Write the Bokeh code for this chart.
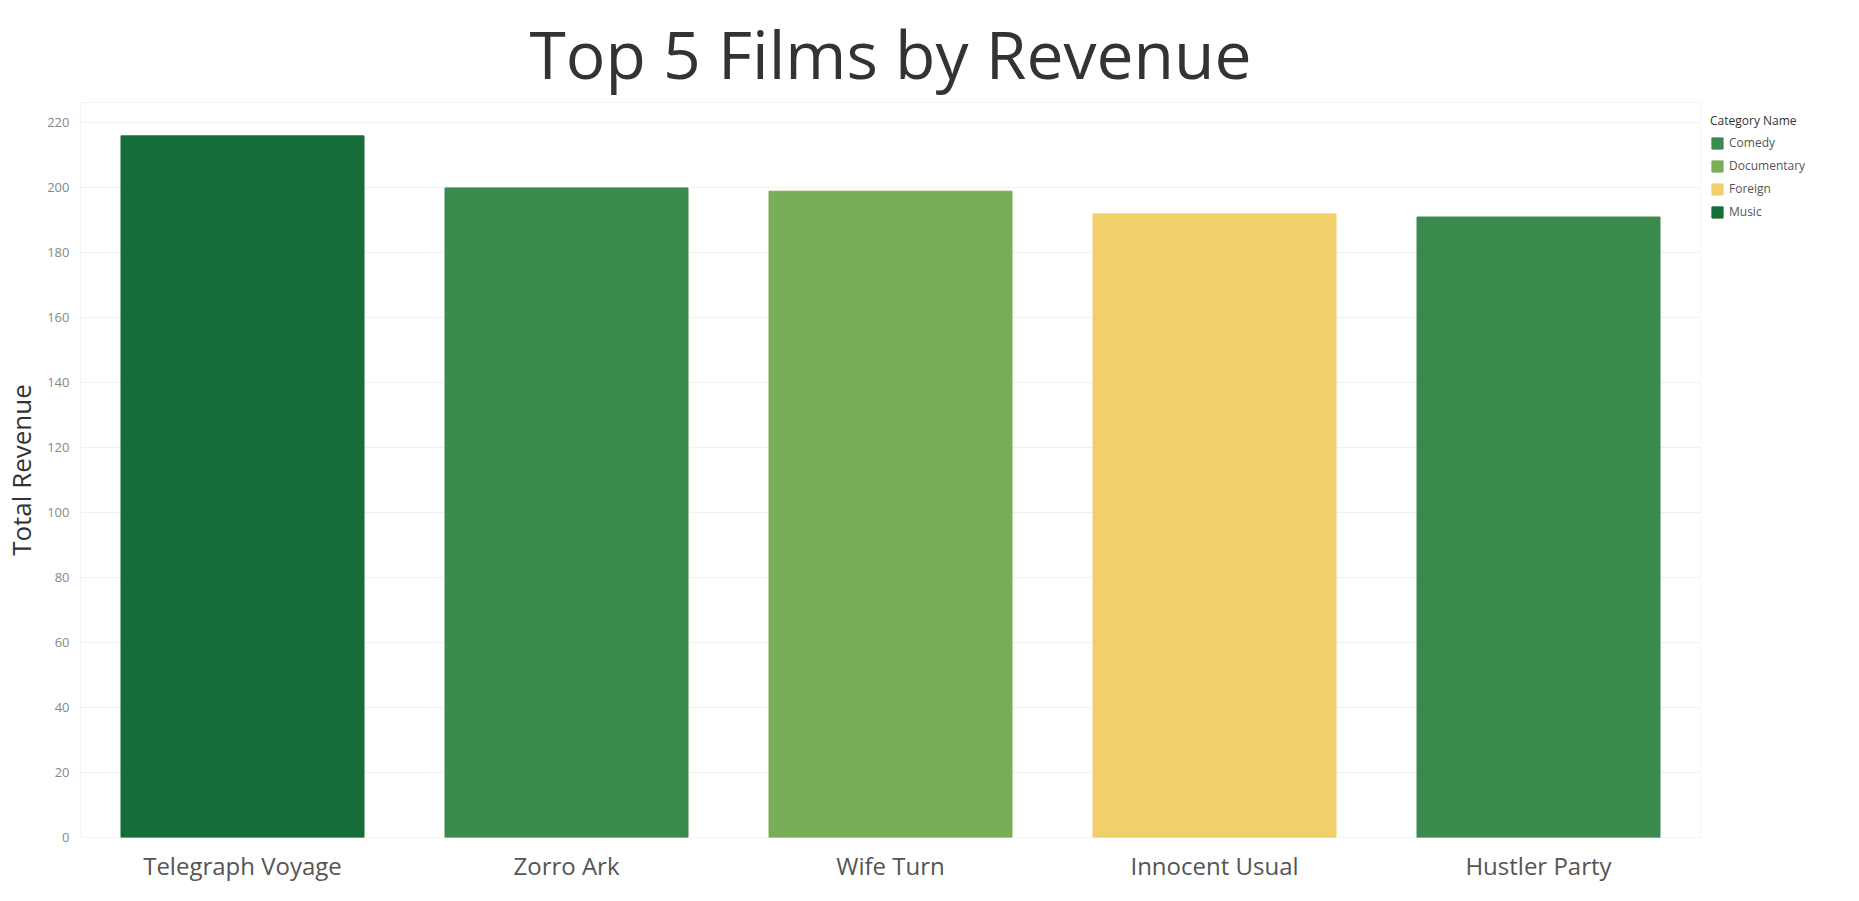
from bokeh.plotting import figure
from bokeh.models import ColumnDataSource, Legend, LegendItem, Range1d, Title
from bokeh.embed import file_html
from bokeh.resources import INLINE

films = ["Telegraph Voyage", "Zorro Ark", "Wife Turn", "Innocent Usual", "Hustler Party"]
revenue = [215.75, 199.72, 198.73, 191.74, 190.78]
categories = ["Music", "Comedy", "Documentary", "Foreign", "Comedy"]
palette = {"Comedy": "#3b8a4d", "Documentary": "#78ae58", "Foreign": "#f1d06b", "Music": "#156d38"}
legend_order = ["Comedy", "Documentary", "Foreign", "Music"]

src = ColumnDataSource(dict(film=films, rev=revenue, cat=categories,
                            color=[palette[c] for c in categories]))

FONT = "Open Sans"
p = figure(x_range=films, frame_width=1620, frame_height=735, output_backend="svg",
           toolbar_location=None, min_border_left=20, min_border_right=0,
           min_border_top=10, y_range=Range1d(0, 226))
p.title = Title(text="Top 5 Films by Revenue", align="center", text_font=FONT,
                text_font_size="66px", text_font_style="normal", text_color="#333333")
r = p.vbar(x="film", top="rev", width=0.75, color="color", source=src)

p.yaxis.axis_label = "Total Revenue"
p.yaxis.axis_label_text_font = FONT
p.yaxis.axis_label_text_font_size = "26px"
p.yaxis.axis_label_text_font_style = "normal"
p.yaxis.axis_label_text_color = "#333333"
p.yaxis.ticker = list(range(0, 221, 20))
p.yaxis.major_label_text_font = FONT
p.yaxis.major_label_text_font_size = "13px"
p.yaxis.major_label_text_color = "#888888"
p.xaxis.major_label_text_font = FONT
p.xaxis.major_label_text_font_size = "24px"
p.xaxis.major_label_text_color = "#555555"
for ax in (p.xaxis, p.yaxis):
    ax.axis_line_color = None
    ax.major_tick_line_color = None
    ax.minor_tick_line_color = None
p.xgrid.grid_line_color = None
p.ygrid.grid_line_color = "#f0f0f0"
p.outline_line_color = "#f4f4f4"
p.x_range.range_padding = 0.0

items = [LegendItem(label=c, renderers=[r], index=categories.index(c)) for c in legend_order]
leg = Legend(items=items, title="Category Name", location="top_left",
             label_text_font=FONT, label_text_font_size="12px", label_text_color="#555555",
             title_text_font=FONT, title_text_font_size="12px", title_text_color="#333333",
             title_text_font_style="normal",
             glyph_width=14, glyph_height=14, label_height=14, spacing=6, padding=2,
             border_line_color=None, margin=10)
p.add_layout(leg, "right")

open("out.html", "w").write(file_html(p, INLINE))
